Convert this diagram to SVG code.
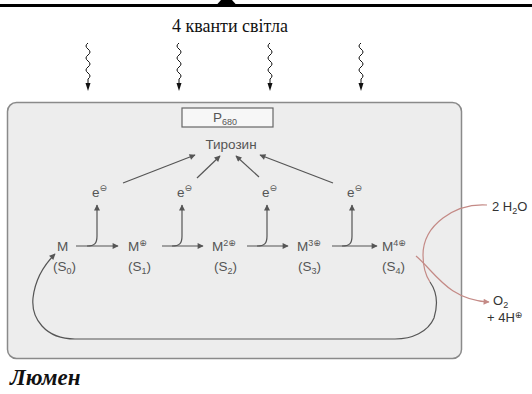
<svg xmlns="http://www.w3.org/2000/svg" width="532" height="394" viewBox="0 0 532 394">
<style>
.lbl{font-family:"Liberation Sans","DejaVu Sans",sans-serif;font-size:13.5px;fill:#555}
.sm{font-size:9px}
.out{font-family:"Liberation Sans","DejaVu Sans",sans-serif;font-size:13px;fill:#333}
.ln{fill:none;stroke:#555;stroke-width:1.2}
.red{fill:none;stroke:#c48a86;stroke-width:1.2}
.wave{fill:none;stroke:#111;stroke-width:1}
</style>
<defs>
<marker id="ah" viewBox="0 0 10 10" refX="9" refY="5" markerWidth="7" markerHeight="6" markerUnits="userSpaceOnUse" orient="auto"><path d="M0,0 L10,5 L0,10 z" fill="#555"/></marker>
<marker id="ahr" viewBox="0 0 10 10" refX="9" refY="5" markerWidth="7" markerHeight="6" markerUnits="userSpaceOnUse" orient="auto"><path d="M0,0 L10,5 L0,10 z" fill="#c48a86"/></marker>
</defs>
<rect width="532" height="394" fill="#fff"/>
<g id="topbar">
<rect x="0" y="4" width="532" height="3" fill="#000"/>
<polygon points="221,0 232,0 236,4.5 217,4.5" fill="#000"/>
</g>
<g id="light-title"><text x="230" y="32" text-anchor="middle" font-family="Liberation Serif,serif" font-size="18" fill="#111">4 кванти світла</text></g>
<g id="frame"><rect x="7.5" y="102.5" width="454" height="256" rx="9" fill="#ededed" stroke="#8a8a8a" stroke-width="1.5"/></g>
<g id="photons">
<path class="wave" d="M88,43 q-4,3 0,6 t0,6 t0,6 t0,6 t0,6 t0,6 l0,4"/><polygon points="85.5,83 90.5,83 88,91" fill="#111"/>
<path class="wave" d="M179,43 q-4,3 0,6 t0,6 t0,6 t0,6 t0,6 t0,6 l0,4"/><polygon points="176.5,83 181.5,83 179,91" fill="#111"/>
<path class="wave" d="M270,43 q-4,3 0,6 t0,6 t0,6 t0,6 t0,6 t0,6 l0,4"/><polygon points="267.5,83 272.5,83 270,91" fill="#111"/>
<path class="wave" d="M361,43 q-4,3 0,6 t0,6 t0,6 t0,6 t0,6 t0,6 l0,4"/><polygon points="358.5,83 363.5,83 361,91" fill="#111"/>
</g>
<g id="P680"><rect x="182" y="108" width="91" height="19" fill="#f7f7f7" stroke="#666" stroke-width="1.2"/><text class="lbl" x="225" y="122" text-anchor="middle">P<tspan class="sm" dy="3">680</tspan></text></g>
<g id="tyrosine"><text class="lbl" x="231" y="149" text-anchor="middle">Тирозин</text></g>
<g id="e1"><text class="lbl" x="92" y="197">e<tspan class="sm" dy="-6">⊖</tspan></text></g>
<g id="e2"><text class="lbl" x="177" y="197">e<tspan class="sm" dy="-6">⊖</tspan></text></g>
<g id="e3"><text class="lbl" x="262" y="197">e<tspan class="sm" dy="-6">⊖</tspan></text></g>
<g id="e4"><text class="lbl" x="347" y="197">e<tspan class="sm" dy="-6">⊖</tspan></text></g>
<g id="S0"><text class="lbl" x="57" y="251">M</text><text class="lbl" x="53" y="271">(S<tspan class="sm" dy="3">0</tspan><tspan dy="-3">)</tspan></text></g>
<g id="S1"><text class="lbl" x="128" y="251">M<tspan class="sm" dy="-5">⊕</tspan></text><text class="lbl" x="128" y="271">(S<tspan class="sm" dy="3">1</tspan><tspan dy="-3">)</tspan></text></g>
<g id="S2"><text class="lbl" x="212" y="251">M<tspan class="sm" dy="-5">2⊕</tspan></text><text class="lbl" x="214" y="271">(S<tspan class="sm" dy="3">2</tspan><tspan dy="-3">)</tspan></text></g>
<g id="S3"><text class="lbl" x="297" y="251">M<tspan class="sm" dy="-5">3⊕</tspan></text><text class="lbl" x="298" y="271">(S<tspan class="sm" dy="3">3</tspan><tspan dy="-3">)</tspan></text></g>
<g id="S4"><text class="lbl" x="382" y="251">M<tspan class="sm" dy="-5">4⊕</tspan></text><text class="lbl" x="382" y="271">(S<tspan class="sm" dy="3">4</tspan><tspan dy="-3">)</tspan></text></g>
<g id="water"><text class="out" x="492" y="211">2 H<tspan class="sm" dy="3">2</tspan><tspan dy="-3">O</tspan></text></g>
<g id="oxygen"><text class="out" x="493" y="305">O<tspan class="sm" dy="3">2</tspan></text><text class="out" x="487" y="322">+ 4H<tspan class="sm" dy="-4">⊕</tspan></text></g>
<g id="lumen"><text x="10" y="385" font-family="Liberation Serif,serif" font-size="23" font-style="italic" font-weight="bold" fill="#111">Люмен</text></g>
<g id="connectors">
<path class="ln" d="M76,246 L118,246" marker-end="url(#ah)"/>
<path class="ln" d="M162,246 L203,246" marker-end="url(#ah)"/>
<path class="ln" d="M247,246 L288,246" marker-end="url(#ah)"/>
<path class="ln" d="M332,246 L377,246" marker-end="url(#ah)"/>
<path class="ln" d="M87,246 C95,246 97,243 97,236 L97,205" marker-end="url(#ah)"/>
<path class="ln" d="M172,246 C180,246 182,243 182,236 L182,205" marker-end="url(#ah)"/>
<path class="ln" d="M257,246 C265,246 267,243 267,236 L267,205" marker-end="url(#ah)"/>
<path class="ln" d="M342,246 C350,246 352,243 352,236 L352,205" marker-end="url(#ah)"/>
<path class="ln" d="M123,183 L195,155" marker-end="url(#ah)"/>
<path class="ln" d="M197,178 L220,156" marker-end="url(#ah)"/>
<path class="ln" d="M259,177 L236,156" marker-end="url(#ah)"/>
<path class="ln" d="M333,183 L260,155" marker-end="url(#ah)"/>
<path class="ln" d="M430,282 C437,292 438,305 434,318 C428,332 412,339 395,339 L75,339 C45,339 31,318 33,298 C35,280 44,265 55,254" marker-end="url(#ah)"/>
<path class="red" d="M487,205 C455,203 423,225 423,255 C423,268 426,276 430,282"/>
<path class="red" d="M416,256 C435,272 448,300 489,302" marker-end="url(#ahr)"/>
</g>
</svg>
